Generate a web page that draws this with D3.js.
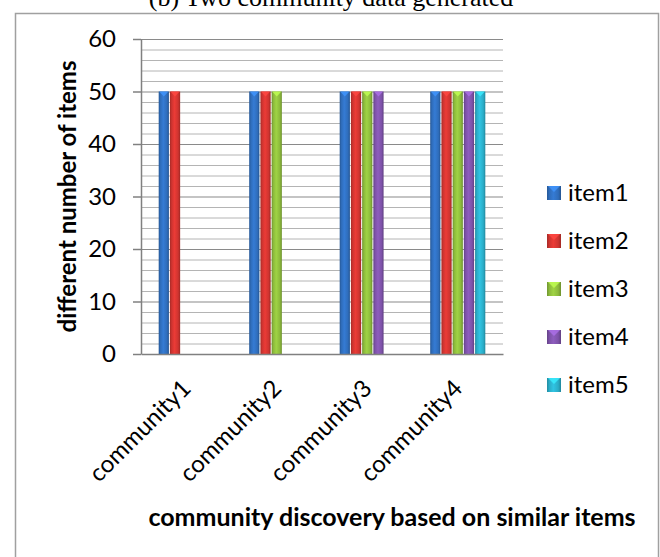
<!DOCTYPE html>
<html>
<head>
<meta charset="utf-8">
<script src="https://cdn.jsdelivr.net/npm/d3@7"></script>
<style>
  html, body { margin: 0; padding: 0; background: #fff; }
  text { font-family: Lato, "Noto Sans", sans-serif; fill: #000; }
</style>
</head>
<body>
<div id="chart"></div>
<script>
// data
const categories = ["community1", "community2", "community3", "community4"];
const seriesNames = ["item1", "item2", "item3", "item4", "item5"];
const item1 = [50, 50, 50, 50];
const item2 = [50, 50, 50, 50];
const item3 = [null, 50, 50, 50];
const item4 = [null, null, 50, 50];
const item5 = [null, null, null, 50];
const seriesValues = [item1, item2, item3, item4, item5];
const yTicks = [0, 10, 20, 30, 40, 50, 60];
const colors = ["#2f6dbb", "#cf3430", "#8cba3c", "#7d52a8", "#2aadc8"];

const W = 660, H = 557;
const margin = {top: 39, left: 141, right: 157, bottom: 203};
const width = W - margin.left - margin.right;
const height = H - margin.top - margin.bottom;

const svg = d3.select("#chart").append("svg")
    .attr("width", W)
    .attr("height", H);

// gradients for the bevelled bars
const defs = svg.append("defs");
colors.forEach((c, i) => {
    let g = defs.append("linearGradient")
        .attr("id", "grad" + i)
        .attr("x1", "0%").attr("x2", "100%").attr("y1", "0%").attr("y2", "0%");
    let base = d3.color(c);
    g.append("stop").attr("offset", "0%").attr("stop-color", base.darker(0.6));
    g.append("stop").attr("offset", "18%").attr("stop-color", base);
    g.append("stop").attr("offset", "45%").attr("stop-color", base.brighter(0.35));
    g.append("stop").attr("offset", "80%").attr("stop-color", base);
    g.append("stop").attr("offset", "100%").attr("stop-color", base.darker(0.7));
});

// outer frame
svg.append("rect")
    .attr("x", 15.5).attr("y", 13.5)
    .attr("width", 643).attr("height", 560)
    .attr("fill", "none")
    .attr("stroke", "#a0a0a0")
    .attr("stroke-width", 1.5);

// title (cut at the top of the picture, as in the source)
svg.append("text")
    .attr("x", 331).attr("y", 6)
    .attr("text-anchor", "middle")
    .style("font-family", "'Liberation Serif', 'DejaVu Serif', serif")
    .style("font-size", "26px")
    .text("(b) Two community data generated");

const g = svg.append("g")
    .attr("transform", `translate(${margin.left},${margin.top})`);

// scales
const y = d3.scaleLinear().domain([0, 60]).range([height, 0]);
const x0 = d3.scaleBand().domain(categories).range([0, width])
    .paddingInner(0.38).paddingOuter(0.19);
const x1 = d3.scaleBand().domain(seriesNames).range([0, x0.bandwidth()]);

// minor gridlines every 2
g.append("g")
    .attr("class", "minor-grid")
    .call(d3.axisLeft(y).tickValues(d3.range(2, 60, 2).filter(d => d % 10 !== 0))
        .tickSize(-width).tickFormat(""))
    .call(a => a.select(".domain").remove())
    .call(a => a.selectAll("line").attr("stroke", "#b4b4b4").attr("stroke-width", 1));

// major gridlines
g.append("g")
    .attr("class", "major-grid")
    .call(d3.axisLeft(y).tickValues(yTicks.slice(1)).tickSize(-width).tickFormat(""))
    .call(a => a.select(".domain").remove())
    .call(a => a.selectAll("line").attr("stroke", "#8a8a8a").attr("stroke-width", 1.2));

// bars, one series at a time; empty slots stay empty
seriesNames.forEach((s, si) => {
    let vals = categories.map((c, ci) => ({c: c, v: seriesValues[si][ci]}))
        .filter(d => d.v !== null);
    let bw = x1.bandwidth();
    let bars = g.selectAll(".bar-" + si)
        .data(vals)
        .join("g")
        .attr("class", "bar-" + si)
        .attr("transform", d => `translate(${x0(d.c) + x1(s)},0)`);
    bars.append("rect")
        .attr("x", 0.5)
        .attr("y", d => y(d.v))
        .attr("width", bw - 1)
        .attr("height", d => height - y(d.v))
        .attr("fill", `url(#grad${si})`);
    // small bevel highlight at the top
    bars.append("path")
        .attr("d", d => `M${1},${y(d.v)} L${bw - 1},${y(d.v)} L${bw / 2},${y(d.v) + bw * 0.45} Z`)
        .attr("fill", d3.color(colors[si]).brighter(0.9))
        .attr("opacity", 0.8);
});

// y axis
g.append("g")
    .call(d3.axisLeft(y).tickValues(yTicks).tickSize(8).tickPadding(17).tickSizeOuter(0))
    .call(a => a.select(".domain").attr("stroke", "#808080").attr("stroke-width", 1.5))
    .call(a => a.selectAll(".tick line").attr("stroke", "#808080").attr("stroke-width", 1.5))
    .call(a => a.selectAll(".tick text").style("font-size", "24px").attr("fill", "#000"));

// x axis line
g.append("g")
    .attr("transform", `translate(0,${height})`)
    .call(d3.axisBottom(x0).tickSize(0).tickFormat(""))
    .call(a => a.select(".domain").attr("stroke", "#808080").attr("stroke-width", 1.5));

// rotated category labels
g.selectAll(".cat-label")
    .data(categories)
    .join("text")
    .attr("class", "cat-label")
    .attr("text-anchor", "end")
    .style("font-size", "24px")
    .attr("transform", d => `translate(${x0(d) + x0.bandwidth() / 2 + 6},${height + 36}) rotate(-45)`)
    .text(d => d);

// axis titles
svg.append("text")
    .attr("transform", `translate(76,${margin.top + height / 2}) rotate(-90)`)
    .attr("text-anchor", "middle")
    .style("font-size", "24px")
    .style("font-weight", "bold")
    .text("different number of items");

svg.append("text")
    .attr("x", 392).attr("y", 526)
    .attr("text-anchor", "middle")
    .style("font-size", "25px")
    .style("font-weight", "bold")
    .text("community discovery based on similar items");

// legend
const legend = svg.append("g").attr("class", "legend");
const ly = d3.scalePoint().domain(seriesNames).range([193, 385]);
const items = legend.selectAll(".item")
    .data(seriesNames)
    .join("g")
    .attr("class", "item")
    .attr("transform", d => `translate(547,${ly(d)})`);
items.append("rect")
    .attr("x", 0).attr("y", -7)
    .attr("width", 14).attr("height", 14)
    .attr("fill", (d, i) => `url(#grad${i})`);
items.append("path")
    .attr("d", "M1,-7 L13,-7 L7,-1 Z")
    .attr("fill", (d, i) => d3.color(colors[i]).brighter(0.9))
    .attr("opacity", 0.8);
items.append("text")
    .attr("x", 21).attr("y", 0)
    .attr("dy", "0.35em")
    .style("font-size", "24px")
    .text(d => d);
</script>
</body>
</html>
